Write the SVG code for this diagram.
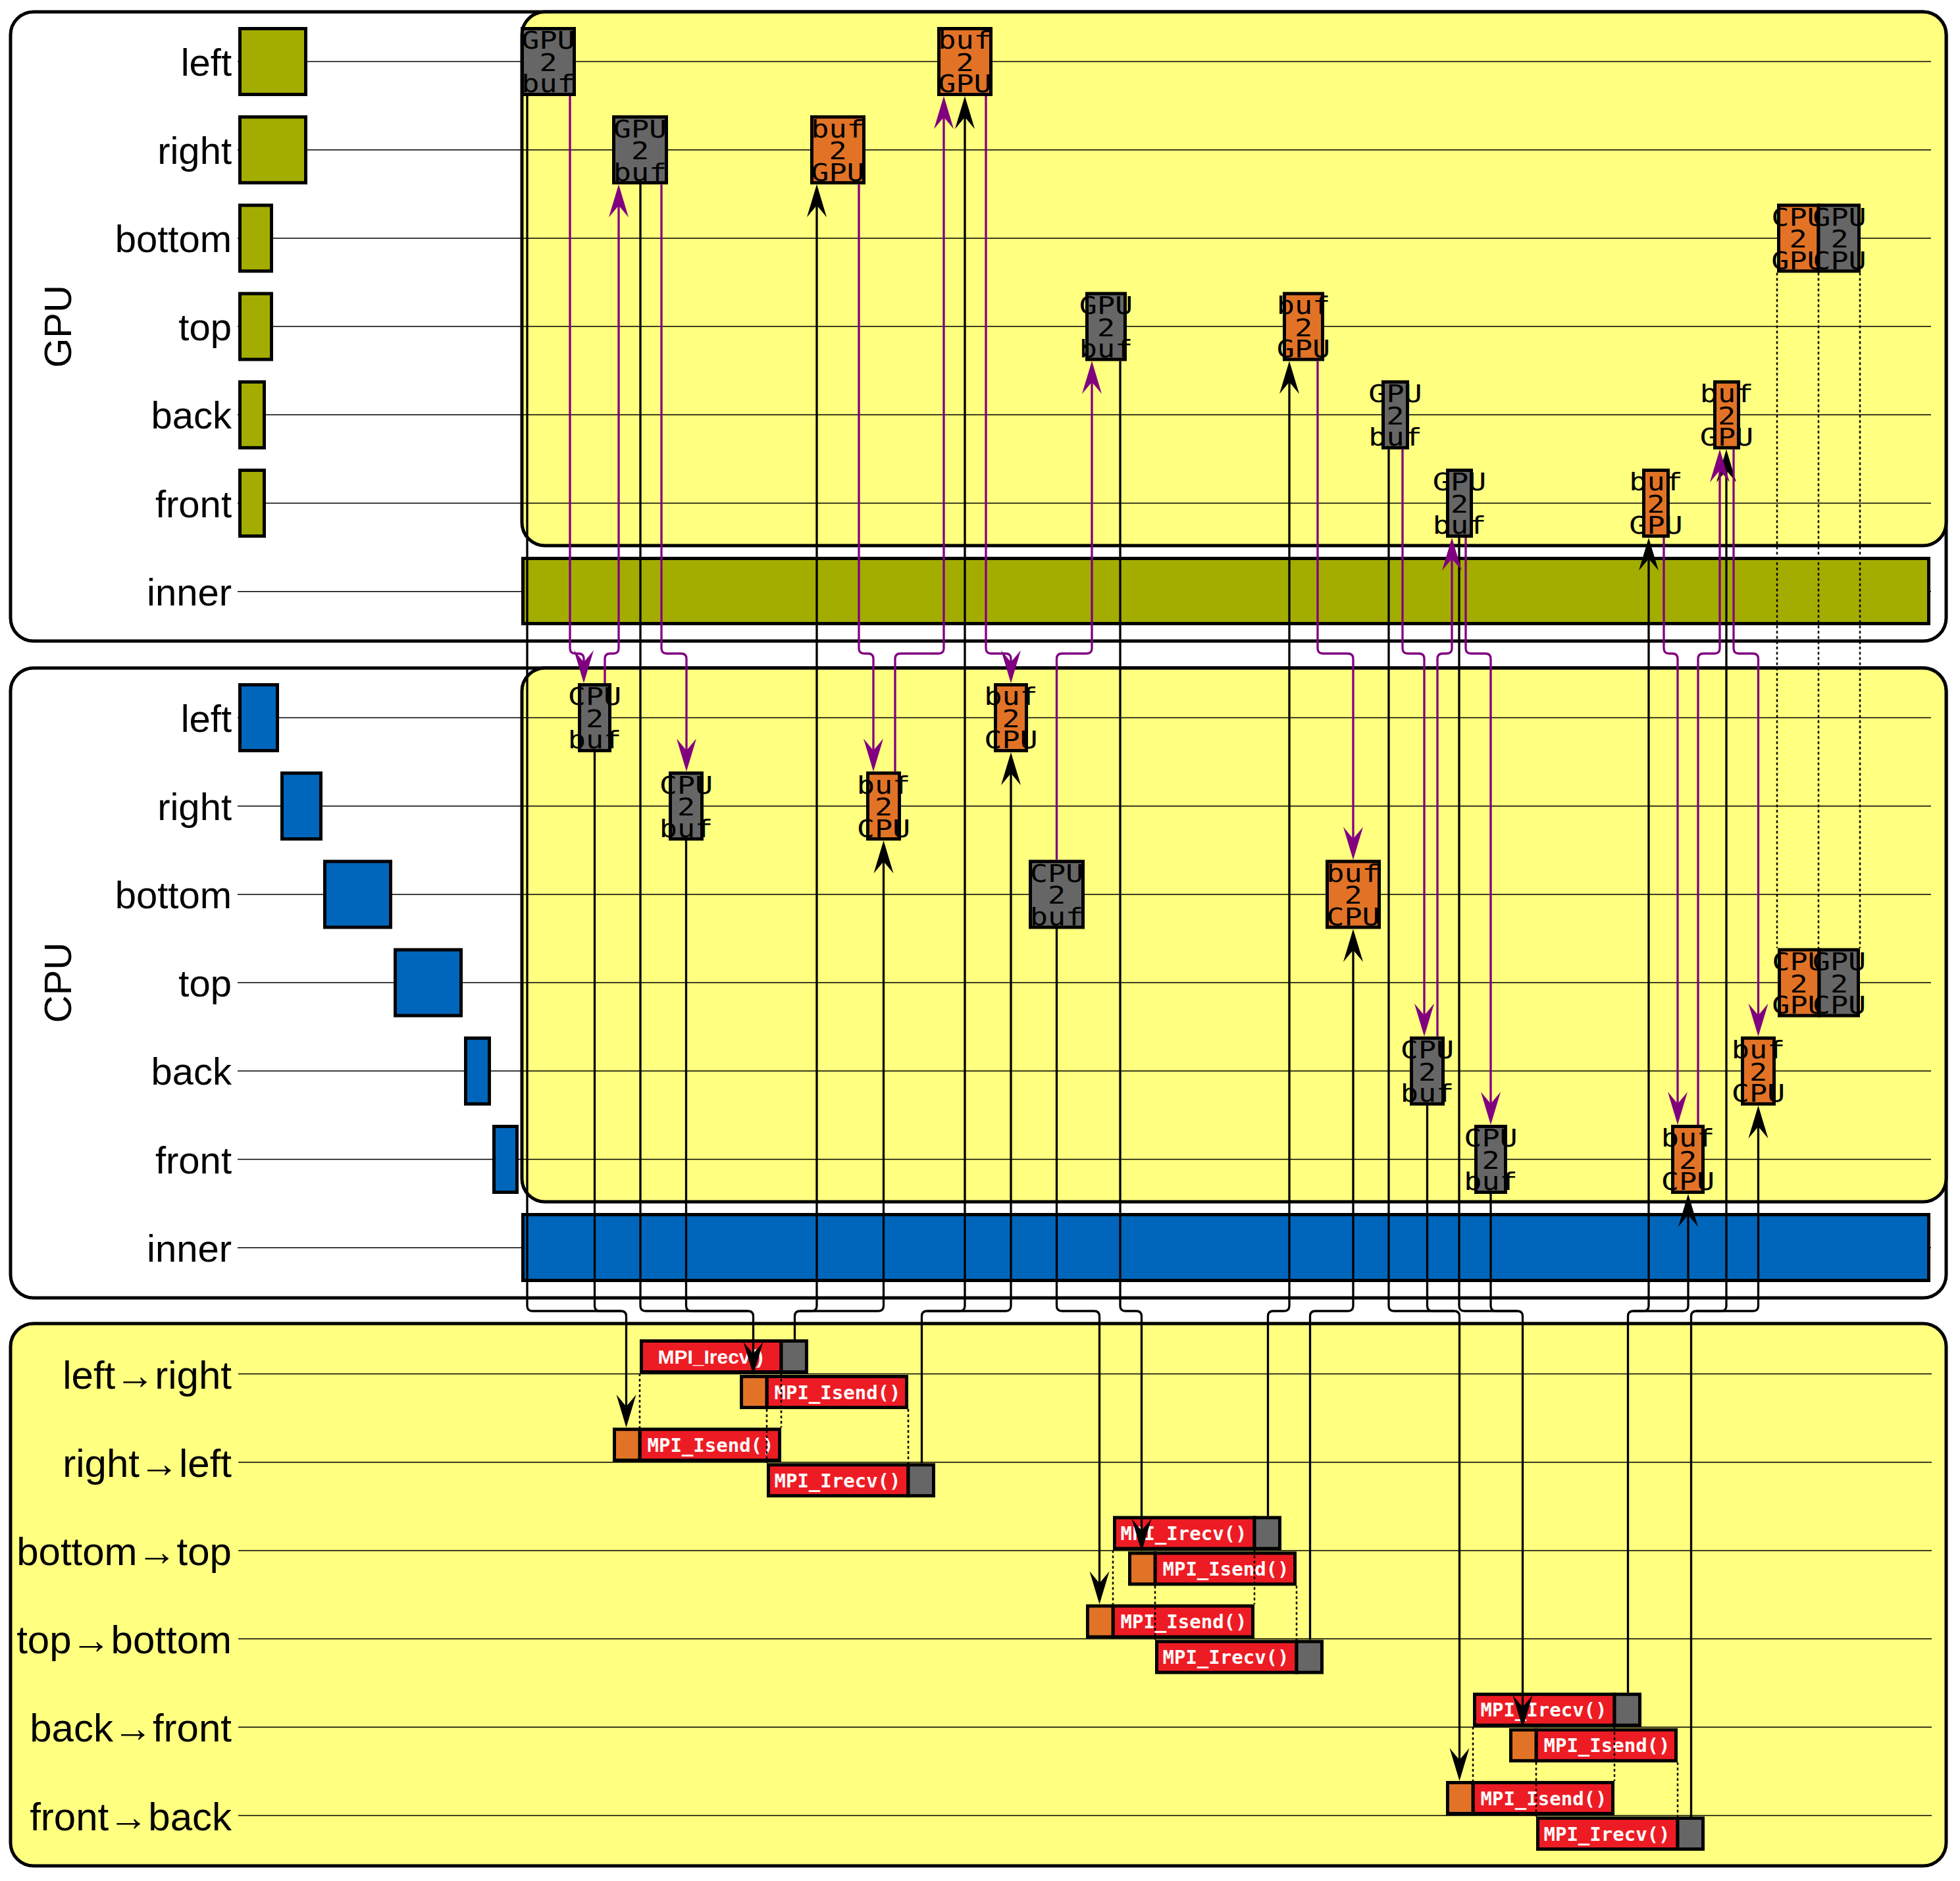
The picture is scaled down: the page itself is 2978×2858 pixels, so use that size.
<svg xmlns="http://www.w3.org/2000/svg" width="2978" height="2858" viewBox="0 0 2978 2858">
<style>
.sec{fill:#fff;stroke:#000;stroke-width:5}
.yel{fill:#ffff80;stroke:#000;stroke-width:5}
.rl{stroke:#000;stroke-width:1.5}
.ol{fill:#a3ad00;stroke:#000;stroke-width:5}
.bl{fill:#0066bb;stroke:#000;stroke-width:5}
.gy{fill:#666;stroke:#000;stroke-width:5}
.or{fill:#e27326;stroke:#000;stroke-width:5}
.rd{fill:#ed1c24;stroke:#000;stroke-width:5}
.lbl{font-family:"Liberation Sans",Arial,sans-serif;font-size:58px;text-anchor:end;fill:#000}
.lb2{font-family:"Liberation Sans",Arial,sans-serif;font-size:60px;text-anchor:end;fill:#000}
.big{font-family:"Liberation Sans",Arial,sans-serif;font-size:58px;text-anchor:middle;fill:#000}
.nt{font-family:"DejaVu Sans Mono","Liberation Mono",monospace;font-size:37px;text-anchor:middle;fill:#000}
.mt{font-family:"DejaVu Sans Mono","Liberation Mono",monospace;font-size:29px;font-weight:bold;text-anchor:middle;fill:#fff}
.ms{font-family:"Liberation Sans",Arial,sans-serif;font-size:30px;font-weight:bold;text-anchor:middle;fill:#fff}
.cb{fill:none;stroke:#000;stroke-width:3.3;marker-end:url(#ab)}
.cbn{fill:none;stroke:#000;stroke-width:3.3}
.cp{fill:none;stroke:#800080;stroke-width:3.3;marker-end:url(#ap)}
.dt{fill:none;stroke:#000;stroke-width:2.5;stroke-dasharray:4 4}
</style>
<defs>
<marker id="ab" markerUnits="userSpaceOnUse" markerWidth="52" markerHeight="32" viewBox="0 0 52 32" refX="45" refY="16" orient="auto"><path d="M1,1 L51,16 L1,31 L19,16 z" fill="#000"/></marker>
<marker id="ap" markerUnits="userSpaceOnUse" markerWidth="52" markerHeight="32" viewBox="0 0 52 32" refX="45" refY="16" orient="auto"><path d="M1,1 L51,16 L1,31 L19,16 z" fill="#800080"/></marker>
</defs>

<g id="gpu-section">
<rect class="sec" x="16" y="18" width="2941" height="956" rx="35"/>
<rect class="yel" x="793" y="18" width="2164" height="811" rx="35"/>
<path class="rl" d="M361 93.5H2934M361 227.7H2934M361 361.9H2934M361 496.1H2934M361 630.3H2934M361 764.5H2934M361 898.7H2934"/>
<rect class="ol" x="794.5" y="848.5" width="2136" height="99"/>
<rect class="ol" x="364.5" y="43.5" width="100" height="100"/>
<rect class="ol" x="364.5" y="177.7" width="100" height="100"/>
<rect class="ol" x="364.5" y="311.9" width="48" height="100"/>
<rect class="ol" x="364.5" y="446.1" width="48" height="100"/>
<rect class="ol" x="364.5" y="580.3" width="37" height="100"/>
<rect class="ol" x="364.5" y="714.5" width="37" height="100"/>
<text class="lbl" x="352" y="114.5">left</text>
<text class="lbl" x="352" y="248.7">right</text>
<text class="lbl" x="352" y="382.9">bottom</text>
<text class="lbl" x="352" y="517.1">top</text>
<text class="lbl" x="352" y="651.3">back</text>
<text class="lbl" x="352" y="785.5">front</text>
<text class="lbl" x="352" y="919.7">inner</text>
<text class="big" transform="translate(108 496) rotate(-90)">GPU</text>
</g>

<g id="cpu-section">
<rect class="sec" x="16" y="1015" width="2941" height="957" rx="35"/>
<rect class="yel" x="793" y="1015" width="2164" height="811" rx="35"/>
<path class="rl" d="M361 1090.5H2934M361 1224.7H2934M361 1358.9H2934M361 1493.1H2934M361 1627.3H2934M361 1761.5H2934M361 1895.7H2934"/>
<rect class="bl" x="794.5" y="1845.5" width="2136" height="100"/>
<rect class="bl" x="364.5" y="1040.5" width="57" height="100"/>
<rect class="bl" x="428.5" y="1174.7" width="59" height="100"/>
<rect class="bl" x="493.5" y="1308.9" width="100" height="100"/>
<rect class="bl" x="600.5" y="1443.1" width="100" height="100"/>
<rect class="bl" x="707.5" y="1577.3" width="36" height="100"/>
<rect class="bl" x="750.5" y="1711.5" width="35" height="100"/>
<text class="lbl" x="352" y="1111.5">left</text>
<text class="lbl" x="352" y="1245.7">right</text>
<text class="lbl" x="352" y="1379.9">bottom</text>
<text class="lbl" x="352" y="1514.1">top</text>
<text class="lbl" x="352" y="1648.3">back</text>
<text class="lbl" x="352" y="1782.5">front</text>
<text class="lbl" x="352" y="1916.7">inner</text>
<text class="big" transform="translate(108 1493) rotate(-90)">CPU</text>
</g>

<g id="comm-section">
<rect class="yel" x="16" y="2011" width="2941" height="824" rx="35"/>
<path class="rl" d="M362 2087.5H2935M362 2221.7H2935M362 2355.9H2935M362 2490.1H2935M362 2624.3H2935M362 2758.5H2935"/>
<text class="lb2" x="352" y="2109.5">left→right</text>
<text class="lb2" x="352" y="2243.7">right→left</text>
<text class="lb2" x="352" y="2377.9">bottom→top</text>
<text class="lb2" x="352" y="2512.1">top→bottom</text>
<text class="lb2" x="352" y="2646.3">back→front</text>
<text class="lb2" x="352" y="2780.5">front→back</text>
</g>

<g id="gpu-nodes">
<g id="g1"><rect class="gy" x="793.5" y="43.5" width="79" height="100"/><text class="nt" transform="translate(833 0) scale(1.22 1)"><tspan x="0" y="74.5">GPU</tspan><tspan x="0" y="108">2</tspan><tspan x="0" y="140.5">buf</tspan></text></g>
<g id="g2"><rect class="gy" x="932.5" y="177.7" width="80" height="100"/><text class="nt" transform="translate(972.5 0) scale(1.22 1)"><tspan x="0" y="208.7">GPU</tspan><tspan x="0" y="242.2">2</tspan><tspan x="0" y="274.7">buf</tspan></text></g>
<g id="g3"><rect class="or" x="1233.5" y="177.7" width="79" height="100"/><text class="nt" transform="translate(1273 0) scale(1.22 1)"><tspan x="0" y="208.7">buf</tspan><tspan x="0" y="242.2">2</tspan><tspan x="0" y="274.7">GPU</tspan></text></g>
<g id="g4"><rect class="or" x="1426.5" y="43.5" width="79" height="100"/><text class="nt" transform="translate(1466 0) scale(1.22 1)"><tspan x="0" y="74.5">buf</tspan><tspan x="0" y="108">2</tspan><tspan x="0" y="140.5">GPU</tspan></text></g>
<g id="g5"><rect class="or" x="2702.5" y="311.9" width="60.5" height="100"/><text class="nt" transform="translate(2732 0) scale(1.22 1)"><tspan x="0" y="342.9">CPU</tspan><tspan x="0" y="376.4">2</tspan><tspan x="0" y="408.9">GPU</tspan></text></g>
<g id="g6"><rect class="gy" x="2763" y="311.9" width="61.5" height="100"/><text class="nt" transform="translate(2795 0) scale(1.22 1)"><tspan x="0" y="342.9">GPU</tspan><tspan x="0" y="376.4">2</tspan><tspan x="0" y="408.9">CPU</tspan></text></g>
<g id="g7"><rect class="gy" x="1651.5" y="446.1" width="58" height="100"/><text class="nt" transform="translate(1680.5 0) scale(1.22 1)"><tspan x="0" y="477.1">GPU</tspan><tspan x="0" y="510.6">2</tspan><tspan x="0" y="543.1">buf</tspan></text></g>
<g id="g8"><rect class="or" x="1951.5" y="446.1" width="58" height="100"/><text class="nt" transform="translate(1980.5 0) scale(1.22 1)"><tspan x="0" y="477.1">buf</tspan><tspan x="0" y="510.6">2</tspan><tspan x="0" y="543.1">GPU</tspan></text></g>
<g id="g9"><rect class="gy" x="2101.5" y="580.3" width="37" height="100"/><text class="nt" transform="translate(2120 0) scale(1.22 1)"><tspan x="0" y="611.3">GPU</tspan><tspan x="0" y="644.8">2</tspan><tspan x="0" y="677.3">buf</tspan></text></g>
<g id="g10"><rect class="gy" x="2199.5" y="714.5" width="36" height="100"/><text class="nt" transform="translate(2217.5 0) scale(1.22 1)"><tspan x="0" y="745.5">GPU</tspan><tspan x="0" y="779">2</tspan><tspan x="0" y="811.5">buf</tspan></text></g>
<g id="g11"><rect class="or" x="2497.5" y="714.5" width="37" height="100"/><text class="nt" transform="translate(2516 0) scale(1.22 1)"><tspan x="0" y="745.5">buf</tspan><tspan x="0" y="779">2</tspan><tspan x="0" y="811.5">GPU</tspan></text></g>
<g id="g12"><rect class="or" x="2605.5" y="580.3" width="36" height="100"/><text class="nt" transform="translate(2623.5 0) scale(1.22 1)"><tspan x="0" y="611.3">buf</tspan><tspan x="0" y="644.8">2</tspan><tspan x="0" y="677.3">GPU</tspan></text></g>
</g>

<g id="cpu-nodes">
<g id="c1"><rect class="gy" x="880.5" y="1040.5" width="46" height="100"/><text class="nt" transform="translate(903.5 0) scale(1.22 1)"><tspan x="0" y="1071.5">CPU</tspan><tspan x="0" y="1105">2</tspan><tspan x="0" y="1137.5">buf</tspan></text></g>
<g id="c2"><rect class="gy" x="1018.5" y="1174.7" width="48" height="100"/><text class="nt" transform="translate(1042.5 0) scale(1.22 1)"><tspan x="0" y="1205.7">CPU</tspan><tspan x="0" y="1239.2">2</tspan><tspan x="0" y="1271.7">buf</tspan></text></g>
<g id="c3"><rect class="or" x="1318.5" y="1174.7" width="48" height="100"/><text class="nt" transform="translate(1342.5 0) scale(1.22 1)"><tspan x="0" y="1205.7">buf</tspan><tspan x="0" y="1239.2">2</tspan><tspan x="0" y="1271.7">CPU</tspan></text></g>
<g id="c4"><rect class="or" x="1512.5" y="1040.5" width="47" height="100"/><text class="nt" transform="translate(1536 0) scale(1.22 1)"><tspan x="0" y="1071.5">buf</tspan><tspan x="0" y="1105">2</tspan><tspan x="0" y="1137.5">CPU</tspan></text></g>
<g id="c5"><rect class="gy" x="1565.5" y="1308.9" width="80" height="100"/><text class="nt" transform="translate(1605.5 0) scale(1.22 1)"><tspan x="0" y="1339.9">CPU</tspan><tspan x="0" y="1373.4">2</tspan><tspan x="0" y="1405.9">buf</tspan></text></g>
<g id="c6"><rect class="or" x="2016.5" y="1308.9" width="79" height="100"/><text class="nt" transform="translate(2056 0) scale(1.22 1)"><tspan x="0" y="1339.9">buf</tspan><tspan x="0" y="1373.4">2</tspan><tspan x="0" y="1405.9">CPU</tspan></text></g>
<g id="c7"><rect class="gy" x="2144.5" y="1577.3" width="48" height="100"/><text class="nt" transform="translate(2168.5 0) scale(1.22 1)"><tspan x="0" y="1608.3">CPU</tspan><tspan x="0" y="1641.8">2</tspan><tspan x="0" y="1674.3">buf</tspan></text></g>
<g id="c8"><rect class="gy" x="2242.5" y="1711.5" width="45" height="100"/><text class="nt" transform="translate(2265 0) scale(1.22 1)"><tspan x="0" y="1742.5">CPU</tspan><tspan x="0" y="1776">2</tspan><tspan x="0" y="1808.5">buf</tspan></text></g>
<g id="c9"><rect class="or" x="2541.5" y="1711.5" width="46" height="100"/><text class="nt" transform="translate(2564.5 0) scale(1.22 1)"><tspan x="0" y="1742.5">buf</tspan><tspan x="0" y="1776">2</tspan><tspan x="0" y="1808.5">CPU</tspan></text></g>
<g id="c10"><rect class="or" x="2647.5" y="1577.3" width="48" height="100"/><text class="nt" transform="translate(2671.5 0) scale(1.22 1)"><tspan x="0" y="1608.3">buf</tspan><tspan x="0" y="1641.8">2</tspan><tspan x="0" y="1674.3">CPU</tspan></text></g>
<g id="c11"><rect class="or" x="2703.5" y="1443.1" width="60.5" height="100"/><text class="nt" transform="translate(2733 0) scale(1.22 1)"><tspan x="0" y="1474.1">CPU</tspan><tspan x="0" y="1507.6">2</tspan><tspan x="0" y="1540.1">GPU</tspan></text></g>
<g id="c12"><rect class="gy" x="2764" y="1443.1" width="59.5" height="100"/><text class="nt" transform="translate(2794.5 0) scale(1.22 1)"><tspan x="0" y="1474.1">GPU</tspan><tspan x="0" y="1507.6">2</tspan><tspan x="0" y="1540.1">CPU</tspan></text></g>
</g>

<g id="mpi-nodes">
<g id="m1"><rect class="rd" x="974.5" y="2037.5" width="212.5" height="47"/><rect class="gy" x="1187" y="2037.5" width="38.5" height="47"/><text class="ms" x="1079.5" y="2071.5">MPI_Irecv()</text></g>
<g id="m2"><rect class="rd" x="1165" y="2091.5" width="212.5" height="47"/><rect class="or" x="1126.5" y="2091.5" width="38.5" height="47"/><text class="mt" x="1272.5" y="2125.5">MPI_Isend()</text></g>
<g id="m3"><rect class="rd" x="972" y="2171.7" width="212.5" height="47"/><rect class="or" x="933.5" y="2171.7" width="38.5" height="47"/><text class="mt" x="1079.5" y="2205.7">MPI_Isend()</text></g>
<g id="m4"><rect class="rd" x="1167.5" y="2225.7" width="212.5" height="47"/><rect class="gy" x="1380" y="2225.7" width="38.5" height="47"/><text class="mt" x="1272.5" y="2259.7">MPI_Irecv()</text></g>
<g id="m5"><rect class="rd" x="1693.5" y="2305.9" width="212.5" height="47"/><rect class="gy" x="1906" y="2305.9" width="38.5" height="47"/><text class="mt" x="1798.5" y="2339.9">MPI_Irecv()</text></g>
<g id="m6"><rect class="rd" x="1755" y="2359.9" width="212.5" height="47"/><rect class="or" x="1716.5" y="2359.9" width="38.5" height="47"/><text class="mt" x="1862.5" y="2393.9">MPI_Isend()</text></g>
<g id="m7"><rect class="rd" x="1691" y="2440.1" width="212.5" height="47"/><rect class="or" x="1652.5" y="2440.1" width="38.5" height="47"/><text class="mt" x="1798.5" y="2474.1">MPI_Isend()</text></g>
<g id="m8"><rect class="rd" x="1757.5" y="2494.1" width="212.5" height="47"/><rect class="gy" x="1970" y="2494.1" width="38.5" height="47"/><text class="mt" x="1862.5" y="2528.1">MPI_Irecv()</text></g>
<g id="m9"><rect class="rd" x="2240.5" y="2574.3" width="212.5" height="47"/><rect class="gy" x="2453" y="2574.3" width="38.5" height="47"/><text class="mt" x="2345.5" y="2608.3">MPI_Irecv()</text></g>
<g id="m10"><rect class="rd" x="2334" y="2628.3" width="212.5" height="47"/><rect class="or" x="2295.5" y="2628.3" width="38.5" height="47"/><text class="mt" x="2441.5" y="2662.3">MPI_Isend()</text></g>
<g id="m11"><rect class="rd" x="2238" y="2708.5" width="212.5" height="47"/><rect class="or" x="2199.5" y="2708.5" width="38.5" height="47"/><text class="mt" x="2345.5" y="2742.5">MPI_Isend()</text></g>
<g id="m12"><rect class="rd" x="2336.5" y="2762.5" width="212.5" height="47"/><rect class="gy" x="2549" y="2762.5" width="38.5" height="47"/><text class="mt" x="2441.5" y="2796.5">MPI_Irecv()</text></g>
</g>

<g id="connectors">
<path class="dt" d="M2700 414.4V1440.6M2763 414.4V1440.6M2826 414.4V1440.6"/>
<path class="dt" d="M972 2087V2169M1187 2087V2169M1165 2141V2223M1380 2141V2223"/>
<path class="dt" d="M1691 2355.4V2437.6M1906 2355.4V2437.6M1755 2409.4V2491.6M1970 2409.4V2491.6"/>
<path class="dt" d="M2238 2623.8V2706M2453 2623.8V2706M2334 2677.8V2760M2549 2677.8V2760"/>

<path class="cb" d="M801 146V1984Q801 1992 809 1992H943.5Q951.5 1992 951.5 2000V2163"/>
<path class="cbn" d="M903.5 1143V1984Q903.5 1992 911.5 1992H943.5"/>
<path class="cb" d="M973 280V1984Q973 1992 981 1992H1136.5Q1144.5 1992 1144.5 2000V2083"/>
<path class="cbn" d="M1042.5 1277V1984Q1042.5 1992 1050.5 1992H1136.5"/>
<path class="cb" d="M1207.5 2035V2000Q1207.5 1992 1215.5 1992H1233Q1241 1992 1241 1984V286"/>
<path class="cb" d="M1215.5 1992H1334.5Q1342.5 1992 1342.5 1984V1283"/>
<path class="cb" d="M1400.5 2223V2000Q1400.5 1992 1408.5 1992H1458Q1466 1992 1466 1984V152"/>
<path class="cb" d="M1408.5 1992H1528Q1536 1992 1536 1984V1149"/>
<path class="cb" d="M1605.5 1411V1984Q1605.5 1992 1613.5 1992H1662.5Q1670.5 1992 1670.5 2000V2431.6"/>
<path class="cb" d="M1702 548.6V1984Q1702 1992 1710 1992H1726.5Q1734.5 1992 1734.5 2000V2351.4"/>
<path class="cb" d="M1926.5 2303.4V2000Q1926.5 1992 1934.5 1992H1951Q1959 1992 1959 1984V554.6"/>
<path class="cb" d="M1990.5 2491.6V2000Q1990.5 1992 1998.5 1992H2048Q2056 1992 2056 1984V1417.4"/>
<path class="cb" d="M2110 682.8V1984Q2110 1992 2118 1992H2209.5Q2217.5 1992 2217.5 2000V2700"/>
<path class="cbn" d="M2168.5 1679.8V1984Q2168.5 1992 2176.5 1992H2209.5"/>
<path class="cb" d="M2217 817V1984Q2217 1992 2225 1992H2305.5Q2313.5 1992 2313.5 2000V2619.8"/>
<path class="cbn" d="M2265 1814V1984Q2265 1992 2273 1992H2305.5"/>
<path class="cb" d="M2473.5 2571.8V2000Q2473.5 1992 2481.5 1992H2497Q2505 1992 2505 1984V823"/>
<path class="cb" d="M2481.5 1992H2557Q2565 1992 2565 1984V1820"/>
<path class="cb" d="M2569.5 2760V2000Q2569.5 1992 2577.5 1992H2615Q2623 1992 2623 1984V688.8"/>
<path class="cb" d="M2577.5 1992H2663.5Q2671.5 1992 2671.5 1984V1685.8"/>

<path class="cp" d="M866 146V985Q866 993 874 993H879Q887 993 887 1001V1032"/>
<path class="cp" d="M919 1038V1001Q919 993 927 993H932Q940 993 940 985V286.2"/>
<path class="cp" d="M1005 280.2V985Q1005 993 1013 993H1035Q1043 993 1043 1001V1166.2"/>
<path class="cp" d="M1305 280.2V985Q1305 993 1313 993H1319Q1327 993 1327 1001V1166.2"/>
<path class="cp" d="M1360 1172.2V1001Q1360 993 1368 993H1426Q1434 993 1434 985V152"/>
<path class="cp" d="M1498 146V985Q1498 993 1506 993H1528Q1536 993 1536 1001V1032"/>
<path class="cp" d="M1605.5 1306.4V1001Q1605.5 993 1613.5 993H1651Q1659 993 1659 985V554.6"/>
<path class="cp" d="M2002 548.6V985Q2002 993 2010 993H2048Q2056 993 2056 1001V1300.4"/>
<path class="cp" d="M2131 682.8V985Q2131 993 2139 993H2156Q2164 993 2164 1001V1568.8"/>
<path class="cp" d="M2184 1574.8V1001Q2184 993 2192 993H2198Q2206 993 2206 985V823"/>
<path class="cp" d="M2227 817V985Q2227 993 2235 993H2257Q2265 993 2265 1001V1703"/>
<path class="cp" d="M2528 817V985Q2528 993 2536 993H2541Q2549 993 2549 1001V1703"/>
<path class="cp" d="M2580 1709V1001Q2580 993 2588 993H2605Q2613 993 2613 985V688.8"/>
<path class="cp" d="M2634 682.8V985Q2634 993 2642 993H2663.5Q2671.5 993 2671.5 1001V1568.8"/>
</g>
</svg>
